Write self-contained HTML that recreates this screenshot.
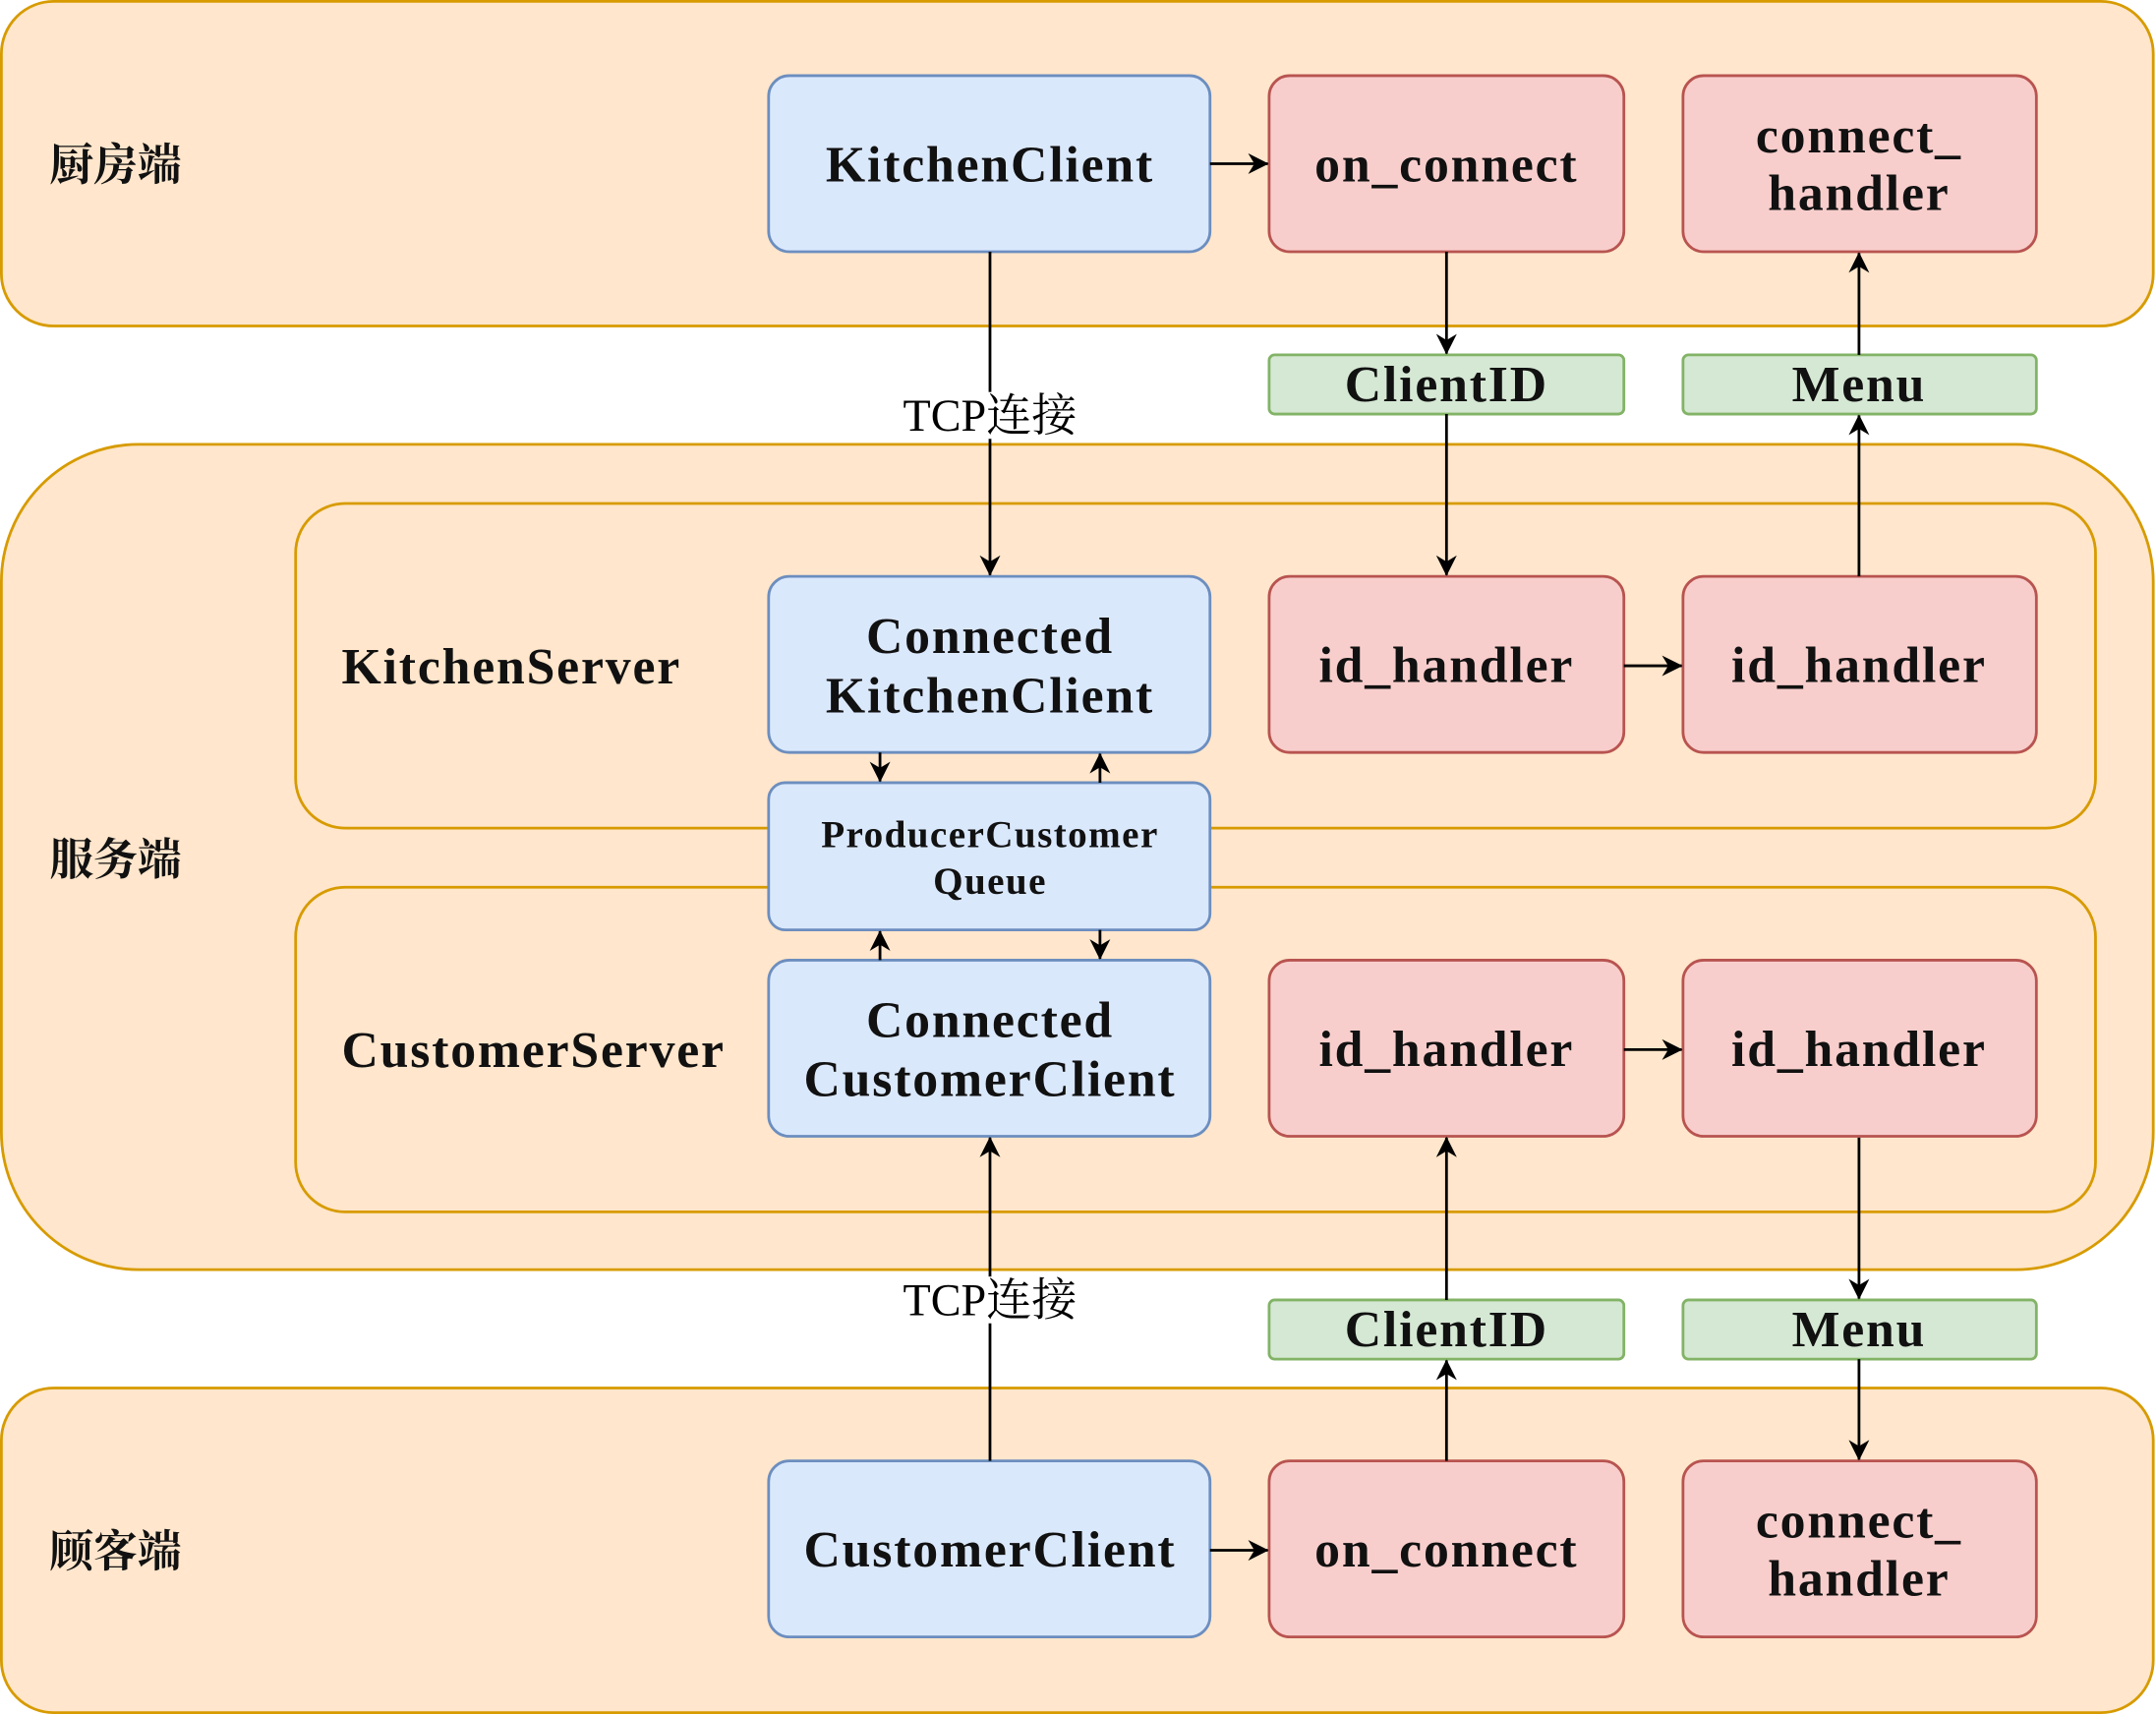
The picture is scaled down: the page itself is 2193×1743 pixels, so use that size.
<!DOCTYPE html>
<html><head><meta charset="utf-8"><style>
html,body{margin:0;padding:0;background:#fff}
svg{display:block}
text{font-family:"Liberation Serif","Noto Serif CJK SC",serif;text-anchor:middle;dominant-baseline:central}
.b{font-size:37px;font-weight:bold;fill:#111;letter-spacing:1.3px}
.o{fill:#ffe6cc;stroke:#d79b00;stroke-width:2}
.bl{fill:#dae8fc;stroke:#6c8ebf;stroke-width:2}
.r{fill:#f8cecc;stroke:#b85450;stroke-width:2}
.g{fill:#d5e8d4;stroke:#82b366;stroke-width:2}
.l{stroke:#000;stroke-width:2;fill:none;marker-end:url(#a)}
</style></head><body>
<svg width="2193" height="1743" viewBox="0 0 1568 1246" preserveAspectRatio="none">
<defs><marker id="a" viewBox="0 0 10 10" refX="9.5" refY="5" markerWidth="15" markerHeight="15" markerUnits="userSpaceOnUse" orient="auto"><path d="M0,0 L10,5 L0,10 L3,5 z" fill="#000"/></marker></defs>
<rect class="o" x="1" y="1" width="1565" height="236" rx="38"/>
<rect class="o" x="1" y="323" width="1565" height="600" rx="100"/>
<rect class="o" x="215" y="366" width="1309" height="236" rx="36"/>
<rect class="o" x="215" y="645" width="1309" height="236" rx="36"/>
<rect class="o" x="1" y="1009" width="1565" height="236" rx="38"/>

<text x="84" y="120" class="b" style="font-size:32px;letter-spacing:0">厨房端</text>
<text x="84" y="625" class="b" style="font-size:32px;letter-spacing:0">服务端</text>
<text x="84" y="1128" class="b" style="font-size:32px;letter-spacing:0">顾客端</text>
<text x="372" y="485" class="b">KitchenServer</text>
<text x="388" y="764" class="b">CustomerServer</text>

<rect class="bl" x="559" y="55" width="321" height="128" rx="15"/>
<text x="720" y="120" class="b">KitchenClient</text>
<rect class="r" x="923" y="55" width="258" height="128" rx="15"/>
<text x="1052" y="120" class="b">on_connect</text>
<rect class="r" x="1224" y="55" width="257" height="128" rx="15"/>
<text x="1352" y="99" class="b">connect_</text><text x="1352" y="141" class="b">handler</text>

<rect class="g" x="923" y="258" width="258" height="43" rx="4"/>
<text x="1052" y="280" class="b">ClientID</text>
<rect class="g" x="1224" y="258" width="257" height="43" rx="4"/>
<text x="1352" y="280" class="b">Menu</text>

<rect class="bl" x="559" y="419" width="321" height="128" rx="15"/>
<text x="720" y="463" class="b">Connected</text><text x="720" y="506" class="b">KitchenClient</text>
<rect class="r" x="923" y="419" width="258" height="128" rx="15"/>
<text x="1052" y="484" class="b">id_handler</text>
<rect class="r" x="1224" y="419" width="257" height="128" rx="15"/>
<text x="1352" y="484" class="b">id_handler</text>

<rect class="bl" x="559" y="569" width="321" height="107" rx="12"/>
<text x="720" y="607" class="b" style="font-size:28px;letter-spacing:1px">ProducerCustomer</text>
<text x="720" y="641" class="b" style="font-size:28px;letter-spacing:1px">Queue</text>

<rect class="bl" x="559" y="698" width="321" height="128" rx="15"/>
<text x="720" y="742" class="b">Connected</text><text x="720" y="785" class="b">CustomerClient</text>
<rect class="r" x="923" y="698" width="258" height="128" rx="15"/>
<text x="1052" y="763" class="b">id_handler</text>
<rect class="r" x="1224" y="698" width="257" height="128" rx="15"/>
<text x="1352" y="763" class="b">id_handler</text>

<rect class="g" x="923" y="945" width="258" height="43" rx="4"/>
<text x="1052" y="967" class="b">ClientID</text>
<rect class="g" x="1224" y="945" width="257" height="43" rx="4"/>
<text x="1352" y="967" class="b">Menu</text>

<rect class="bl" x="559" y="1062" width="321" height="128" rx="15"/>
<text x="720" y="1127" class="b">CustomerClient</text>
<rect class="r" x="923" y="1062" width="258" height="128" rx="15"/>
<text x="1052" y="1127" class="b">on_connect</text>
<rect class="r" x="1224" y="1062" width="257" height="128" rx="15"/>
<text x="1352" y="1106" class="b">connect_</text><text x="1352" y="1148" class="b">handler</text>

<path class="l" d="M880,119 H922"/>
<path class="l" d="M720,183 V418"/>
<path class="l" d="M1052,183 V257"/>
<path class="l" d="M1052,301 V418"/>
<path class="l" d="M1352,419 V302"/>
<path class="l" d="M1352,258 V184"/>
<path class="l" d="M1181,484 H1223"/>
<path class="l" d="M640,547 V568"/>
<path class="l" d="M800,569 V548"/>
<path class="l" d="M640,698 V677"/>
<path class="l" d="M800,676 V697"/>
<path class="l" d="M1181,763 H1223"/>
<path class="l" d="M720,1062 V827"/>
<path class="l" d="M1052,1062 V989"/>
<path class="l" d="M1052,945 V827"/>
<path class="l" d="M1352,827 V944"/>
<path class="l" d="M1352,988 V1061"/>
<path class="l" d="M880,1127 H922"/>

<rect x="648" y="285" width="144" height="34" fill="#fff"/>
<text x="720" y="302" style="font-size:33px">TCP连接</text>
<rect x="648" y="928" width="144" height="34" fill="#fff"/>
<text x="720" y="945" style="font-size:33px">TCP连接</text>
</svg>
</body></html>
